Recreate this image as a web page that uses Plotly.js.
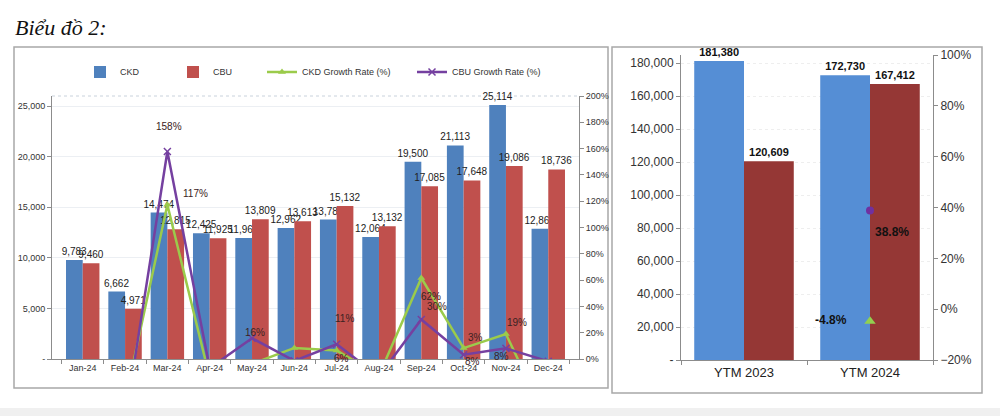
<!DOCTYPE html>
<html>
<head>
<meta charset="utf-8">
<script src="https://cdn.plot.ly/plotly-3.0.1.min.js"></script>
<style>html,body{margin:0;padding:0;background:#fff;}#chart{width:1000px;height:416px;}</style>
</head>
<body>
<div id="chart"></div>
<script>
// ---------- data ----------
const months = ['Jan-24','Feb-24','Mar-24','Apr-24','May-24','Jun-24','Jul-24','Aug-24','Sep-24','Oct-24','Nov-24','Dec-24'];
const ckd = [9783, 6662, 14474, 12425, 11960, 12962, 13788, 12064, 19500, 21113, 25114, 12867];
const cbu = [9460, 4971, 12815, 11925, 13809, 13613, 15132, 13132, 17085, 17648, 19086, 18736];
const ckdGrowth = [null, -0.319, 1.173, -0.142, -0.037, 0.084, 0.064, -0.125, 0.616, 0.083, 0.190, -0.488];
const cbuGrowth = [null, -0.475, 1.578, -0.069, 0.158, -0.014, 0.112, -0.132, 0.301, 0.033, 0.081, -0.018];

const ytmCats = ['YTM 2023', 'YTM 2024'];
const ckdYtm = [181380, 172730];
const cbuYtm = [120609, 167412];
const ckdYtmGrowth = [null, -0.048];
const cbuYtmGrowth = [null, 0.388];

const leftTickVals = [0, 5000, 10000, 15000, 20000, 25000];
const leftTickText = ['-', '5,000', '10,000', '15,000', '20,000', '25,000'];
const rightTickVals = [0, 20000, 40000, 60000, 80000, 100000, 120000, 140000, 160000, 180000];
const rightTickText = ['-', '20,000', '40,000', '60,000', '80,000', '100,000', '120,000', '140,000', '160,000', '180,000'];

// label placement (pixel offsets from the point; null = label not shown)
const ckdLabelOffset = [null, null, [28,11], null, null, null, [5,-8], null, [10,-18], [9,-13], [11,12], null];
const cbuLabelOffset = [null, null, [2,25], null, [3,6], null, [8,26], null, [16,13], [12,17], [-4,-8], null];

// ---------- styles ----------
const BLUE_L = '#4F81BD', RED_L = '#C0504D';
const BLUE_R = '#558ED5', RED_R = '#953735';
const GREEN = '#9BCB4B', PURPLE = '#7540A0';
const FONT = 'Liberation Sans, Arial, sans-serif';

const traces = [
  {type:'bar', name:'CKD', x:months, y:ckd, xaxis:'x', yaxis:'y', marker:{color:BLUE_L},
   texttemplate:'%{y:,}', textposition:'outside', constraintext:'none', cliponaxis:false,
   textfont:{family:FONT, size:10, color:'#222'}, legend:'legend', hoverinfo:'x+y'},
  {type:'bar', name:'CBU', x:months, y:cbu, xaxis:'x', yaxis:'y', marker:{color:RED_L},
   texttemplate:'%{y:,}', textposition:'outside', constraintext:'none', cliponaxis:false,
   textfont:{family:FONT, size:10, color:'#222'}, legend:'legend2', hoverinfo:'x+y'},
  {type:'scatter', mode:'lines+markers', name:'CKD Growth Rate (%)', x:months, y:ckdGrowth,
   xaxis:'x', yaxis:'y2', line:{color:GREEN, width:2.5}, marker:{symbol:'triangle-up', size:7, color:GREEN},
   legend:'legend3'},
  {type:'scatter', mode:'lines+markers', name:'CBU Growth Rate (%)', x:months, y:cbuGrowth,
   xaxis:'x', yaxis:'y2', line:{color:PURPLE, width:2.5}, marker:{symbol:'x-thin', size:7, color:PURPLE, line:{color:PURPLE, width:1.5}},
   legend:'legend4'},
  // right panel
  {type:'bar', name:'CKD', x:ytmCats, y:ckdYtm, xaxis:'x2', yaxis:'y3', marker:{color:BLUE_R},
   texttemplate:'<b>%{y:,}</b>', textposition:'outside', constraintext:'none', cliponaxis:false,
   textfont:{family:FONT, size:11, color:'#111'}, showlegend:false},
  {type:'bar', name:'CBU', x:ytmCats, y:cbuYtm, xaxis:'x2', yaxis:'y3', marker:{color:RED_R},
   texttemplate:'<b>%{y:,}</b>', textposition:'outside', constraintext:'none', cliponaxis:false,
   textfont:{family:FONT, size:11, color:'#111'}, showlegend:false},
  {type:'scatter', mode:'markers', name:'CKD Growth Rate (%)', x:ytmCats, y:ckdYtmGrowth, xaxis:'x2', yaxis:'y4',
   marker:{symbol:'triangle-up', size:10, color:'#92D050'}, showlegend:false},
  {type:'scatter', mode:'markers', name:'CBU Growth Rate (%)', x:ytmCats, y:cbuYtmGrowth, xaxis:'x2', yaxis:'y4',
   marker:{symbol:'circle', size:8, color:'#7030A0'}, showlegend:false}
];

const annotations = [];
function pct(v){ return Math.round(v*100) + '%'; }
months.forEach((m,i)=>{
  const o1 = ckdLabelOffset[i];
  if (o1 && ckdGrowth[i] !== null) annotations.push({x:m, y:ckdGrowth[i], xref:'x', yref:'y2', text:pct(ckdGrowth[i]),
     showarrow:false, xshift:o1[0], yshift:o1[1], font:{family:FONT, size:10, color:'#3a2222'}});
  const o2 = cbuLabelOffset[i];
  if (o2 && cbuGrowth[i] !== null) annotations.push({x:m, y:cbuGrowth[i], xref:'x', yref:'y2', text:pct(cbuGrowth[i]),
     showarrow:false, xshift:o2[0], yshift:o2[1], font:{family:FONT, size:10, color:'#3a2222'}});
});
ytmCats.forEach((c,i)=>{
  if (cbuYtmGrowth[i] !== null) annotations.push({x:c, y:cbuYtmGrowth[i], xref:'x2', yref:'y4',
     text:'<b>' + (cbuYtmGrowth[i]*100).toFixed(1) + '%</b>', showarrow:false, xshift:22, yshift:-21,
     font:{family:FONT, size:12, color:'#111'}});
  if (ckdYtmGrowth[i] !== null) annotations.push({x:c, y:ckdYtmGrowth[i], xref:'x2', yref:'y4',
     text:'<b>' + (ckdYtmGrowth[i]*100).toFixed(1) + '%</b>', showarrow:false, xshift:-39, yshift:1,
     font:{family:FONT, size:12, color:'#111'}});
});

const axisCommon = {showline:true, linecolor:'#8c8c8c', linewidth:1, ticks:'outside', ticklen:4, tickcolor:'#8c8c8c',
  zeroline:false, fixedrange:true};

const legendCommon = {orientation:'h', yanchor:'middle', xanchor:'left', y:0.827, bgcolor:'rgba(0,0,0,0)',
  font:{family:FONT, size:9, color:'#333'}, itemwidth:30, borderwidth:0};

const layout = {
  width:1000, height:416, autosize:false,
  margin:{l:0, r:0, t:0, b:0},
  paper_bgcolor:'#ffffff', plot_bgcolor:'rgba(0,0,0,0)',
  barmode:'group', bargap:0.21, bargroupgap:0,
  title:{text:'Biểu đồ 2:', x:0.015, xanchor:'left', xref:'paper', y:1-27/416, yanchor:'middle', yref:'paper',
    font:{family:'Liberation Serif, Times New Roman, serif', size:22, color:'#111', style:'italic'}},
  xaxis:Object.assign({}, axisCommon, {domain:[0.052, 0.579], anchor:'y', tickson:'boundaries',
    tickfont:{family:FONT, size:9, color:'#333'}, showgrid:false}),
  yaxis:Object.assign({}, axisCommon, {domain:[1-359/416, 1-96/416], anchor:'x', range:[0, 26000],
    tickvals:leftTickVals, ticktext:leftTickText, tickfont:{family:FONT, size:9, color:'#333'},
    showgrid:true, gridcolor:'#eceff3', gridwidth:1}),
  yaxis2:Object.assign({}, axisCommon, {overlaying:'y', side:'right', anchor:'x', range:[0, 2.0],
    tickvals:[0,0.2,0.4,0.6,0.8,1.0,1.2,1.4,1.6,1.8,2.0], tickformat:'.0%',
    tickfont:{family:FONT, size:9, color:'#333'}, showgrid:false}),
  xaxis2:Object.assign({}, axisCommon, {domain:[0.681, 0.933], anchor:'y3', tickson:'boundaries',
    tickfont:{family:FONT, size:13, color:'#222'}, showgrid:false}),
  yaxis3:Object.assign({}, axisCommon, {domain:[1-360/416, 1-55/416], anchor:'x2', range:[0, 185000],
    tickvals:rightTickVals, ticktext:rightTickText, tickfont:{family:FONT, size:12, color:'#333'},
    showgrid:true, gridcolor:'#eeeeee', griddash:'dot'}),
  yaxis4:Object.assign({}, axisCommon, {overlaying:'y3', side:'right', anchor:'x2', range:[-0.2, 1.0],
    tickvals:[-0.2,0,0.2,0.4,0.6,0.8,1.0], tickformat:'.0%',
    tickfont:{family:FONT, size:12, color:'#333'}, showgrid:false}),
  legend:Object.assign({}, legendCommon, {x:0.080}),
  legend2:Object.assign({}, legendCommon, {x:0.173}),
  legend3:Object.assign({}, legendCommon, {x:0.262}),
  legend4:Object.assign({}, legendCommon, {x:0.412}),
  annotations:annotations,
  shapes:[
    {type:'rect', xref:'paper', yref:'paper', x0:0.014, x1:0.608, y0:1-388/416, y1:1-47/416,
      line:{color:'#a8a8a8', width:1.5}, layer:'below'},
    {type:'rect', xref:'paper', yref:'paper', x0:0.612, x1:0.982, y0:1-393/416, y1:1-47/416,
      line:{color:'#a8a8a8', width:1.5}, layer:'below'},
    {type:'line', xref:'paper', yref:'paper', x0:0.052, x1:0.579, y0:1-96/416, y1:1-96/416,
      line:{color:'#c9d2dc', width:1, dash:'dot'}, layer:'below'},
    {type:'rect', xref:'paper', yref:'paper', x0:0, x1:1, y0:0, y1:8/416,
      line:{width:0}, fillcolor:'#f0f0f0', layer:'below'}
  ],
  hovermode:false
};

Plotly.newPlot('chart', traces, layout, {displayModeBar:false, staticPlot:true});
</script>
</body>
</html>
